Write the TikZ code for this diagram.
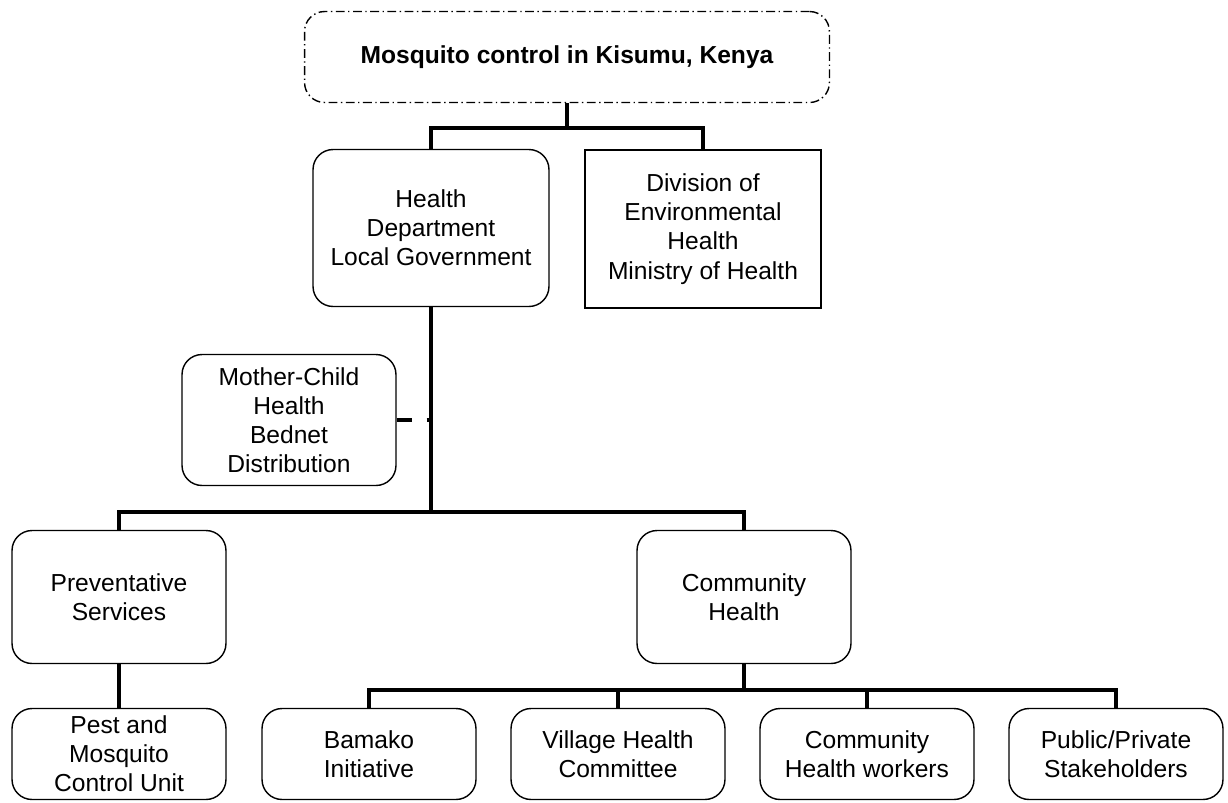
\documentclass[tikz,border=0pt]{standalone}
\usepackage{fontspec}
\setmainfont{Liberation Sans}
\usepackage{tikz}
\usetikzlibrary{positioning, calc}
\tikzset{
  orgbox/.style={draw, line width=0.8pt, rounded corners=0.4cm, align=center,
    font=\fontsize{14}{16.6}\selectfont, inner sep=2pt},
  sharpbox/.style={orgbox, rounded corners=0pt},
  midbox/.style={orgbox, minimum width=4.28cm, minimum height=2.64cm},
  lowbox/.style={orgbox, minimum width=4.28cm, minimum height=1.82cm},
  link/.style={line width=2.3pt},
}
\begin{document}
\begin{tikzpicture}[x=0.02cm, y=-0.02cm]
\useasboundingbox (0,0) rectangle (1228,802);
\node[orgbox, dash pattern=on 5pt off 2pt on 0.8pt off 2pt, minimum width=10.5cm, minimum height=1.82cm, font=\fontsize{14}{16.6}\selectfont\bfseries] (title) at (567,57) {Mosquito control in Kisumu, Kenya};
\node[orgbox, minimum width=4.72cm, minimum height=3.14cm] (healthdept) at (431,228) {Health\\Department\\Local Government};
\node[sharpbox, minimum width=4.72cm, minimum height=3.16cm] (envhealth) at (703,229) {Division of\\Environmental\\Health\\Ministry of Health};
\node[midbox, minimum height=2.62cm] (mchbednet) at (289,420) {Mother-Child\\Health\\Bednet\\Distribution};
\node[midbox, minimum height=2.66cm] (prevserv) at (119,597) {Preventative\\Services};
\node[midbox, minimum height=2.66cm] (commhealth) at (744,597) {Community\\Health};
\node[lowbox] (pestunit) at (119,754) {Pest and\\Mosquito\\Control Unit};
\node[lowbox] (bamako) at (369,754) {Bamako\\Initiative};
\node[lowbox] (village) at (618,754) {Village Health\\Committee};
\node[lowbox] (chworkers) at (867,754) {Community\\Health workers};
\node[lowbox] (stakeholders) at (1116,754) {Public/Private\\Stakeholders};
% top level
\draw[link] (title.south) -- ++(0,25) -| (envhealth.north);
\draw[link] (title.south) ++(0,25) -| (healthdept.north);
% health department
\draw[link] (healthdept.south) -- (healthdept.south |- 0,512) coordinate (hub);
\draw[link] (hub) -| (prevserv.north);
\draw[link] (hub) -| (commhealth.north);
\draw[line width=1.8pt, dash pattern=on 9pt off 8pt] (mchbednet.east) -- (mchbednet.east -| hub);
\draw[link] (prevserv.south) -- (pestunit.north);
% community health
\draw[link] (commhealth.south) -- ++(0,26) coordinate (chub);
\foreach \leaf in {bamako, village, chworkers, stakeholders}
  \draw[link] (chub) -| (\leaf.north);
\end{tikzpicture}
\end{document}
